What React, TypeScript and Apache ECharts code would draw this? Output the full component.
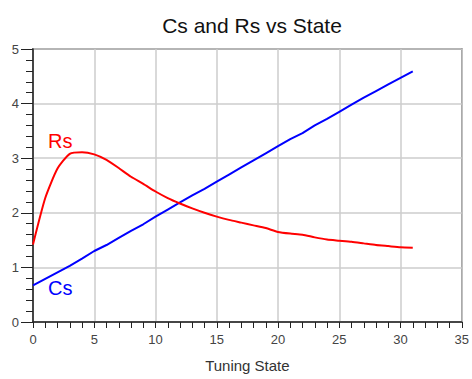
import React, { useEffect, useRef } from "react";
import * as echarts from "echarts";

const states = Array.from({ length: 32 }, (_, i) => i);
const csValues = [0.67, 0.79, 0.91, 1.03, 1.16, 1.3, 1.41, 1.54, 1.67, 1.79, 1.93, 2.06, 2.19, 2.32, 2.44, 2.57, 2.7, 2.83, 2.96, 3.09, 3.22, 3.35, 3.46, 3.6, 3.72, 3.85, 3.98, 4.11, 4.23, 4.35, 4.47, 4.59];
const rsValues = [1.42, 2.27, 2.81, 3.08, 3.11, 3.07, 2.97, 2.82, 2.66, 2.53, 2.39, 2.27, 2.17, 2.08, 2.0, 1.93, 1.87, 1.82, 1.77, 1.72, 1.65, 1.62, 1.6, 1.55, 1.51, 1.49, 1.47, 1.44, 1.41, 1.39, 1.37, 1.36];

const FONT = "'Liberation Sans', Arial, sans-serif";

export default function App() {
  const ref = useRef<HTMLDivElement>(null);
  useEffect(() => {
    if (!ref.current) return;
    const chart = echarts.init(ref.current, undefined, { renderer: "svg" });
    chart.setOption({
      animation: false,
      backgroundColor: "#fff",
      title: {
        text: "Cs and Rs vs State",
        left: 247,
        textAlign: "center",
        top: 10,
        textStyle: { fontFamily: FONT, fontSize: 21, fontWeight: "normal", color: "#111" },
      },
      grid: { left: 33, right: 8, top: 49, bottom: 57, show: true, borderColor: "#444", borderWidth: 1.5 },
      xAxis: {
        type: "value",
        min: 0,
        max: 35,
        interval: 5,
        name: "Tuning State",
        nameLocation: "middle",
        nameGap: 36,
        nameTextStyle: { fontFamily: FONT, fontSize: 15, color: "#333" },
        axisLine: { show: true, onZero: false, lineStyle: { color: "#222", width: 1.5 } },
        axisTick: { show: true, length: 6, lineStyle: { color: "#222" } },
        minorTick: { show: true, splitNumber: 5, length: 6, lineStyle: { color: "#222" } },
        axisLabel: { fontFamily: FONT, fontSize: 13, color: "#444", margin: 11 },
        splitLine: { show: true, lineStyle: { color: "#ccc", width: 1.5 } },
      },
      yAxis: {
        type: "value",
        min: 0,
        max: 5,
        interval: 1,
        axisLine: { show: true, onZero: false, lineStyle: { color: "#222", width: 1.5 } },
        axisTick: { show: true, length: 12, lineStyle: { color: "#222" } },
        minorTick: { show: true, splitNumber: 5, length: 7, lineStyle: { color: "#222" } },
        axisLabel: { fontFamily: FONT, fontSize: 13, color: "#444", margin: 14 },
        splitLine: { show: true, lineStyle: { color: "#ccc", width: 1.5 } },
      },
      series: [
        {
          name: "Cs",
          type: "line",
          data: states.map((s, i) => [s, csValues[i]]),
          showSymbol: false,
          lineStyle: { color: "#0000ff", width: 2 },
          itemStyle: { color: "#0000ff" },
        },
        {
          name: "Rs",
          type: "line",
          data: states.map((s, i) => [s, rsValues[i]]),
          showSymbol: false,
          smooth: 0.2,
          lineStyle: { color: "#ff0000", width: 2 },
          itemStyle: { color: "#ff0000" },
        },
      ],
      graphic: [
        { type: "text", x: 48, y: 131, style: { text: "Rs", fontFamily: FONT, fontSize: 20, fill: "#ff0000" } },
        { type: "text", x: 48, y: 278, style: { text: "Cs", fontFamily: FONT, fontSize: 20, fill: "#0000ff" } },
      ],
    });
    return () => chart.dispose();
  }, []);
  return <div ref={ref} style={{ width: 472, height: 379, position: "absolute", left: 0, top: 0 }} />;
}
